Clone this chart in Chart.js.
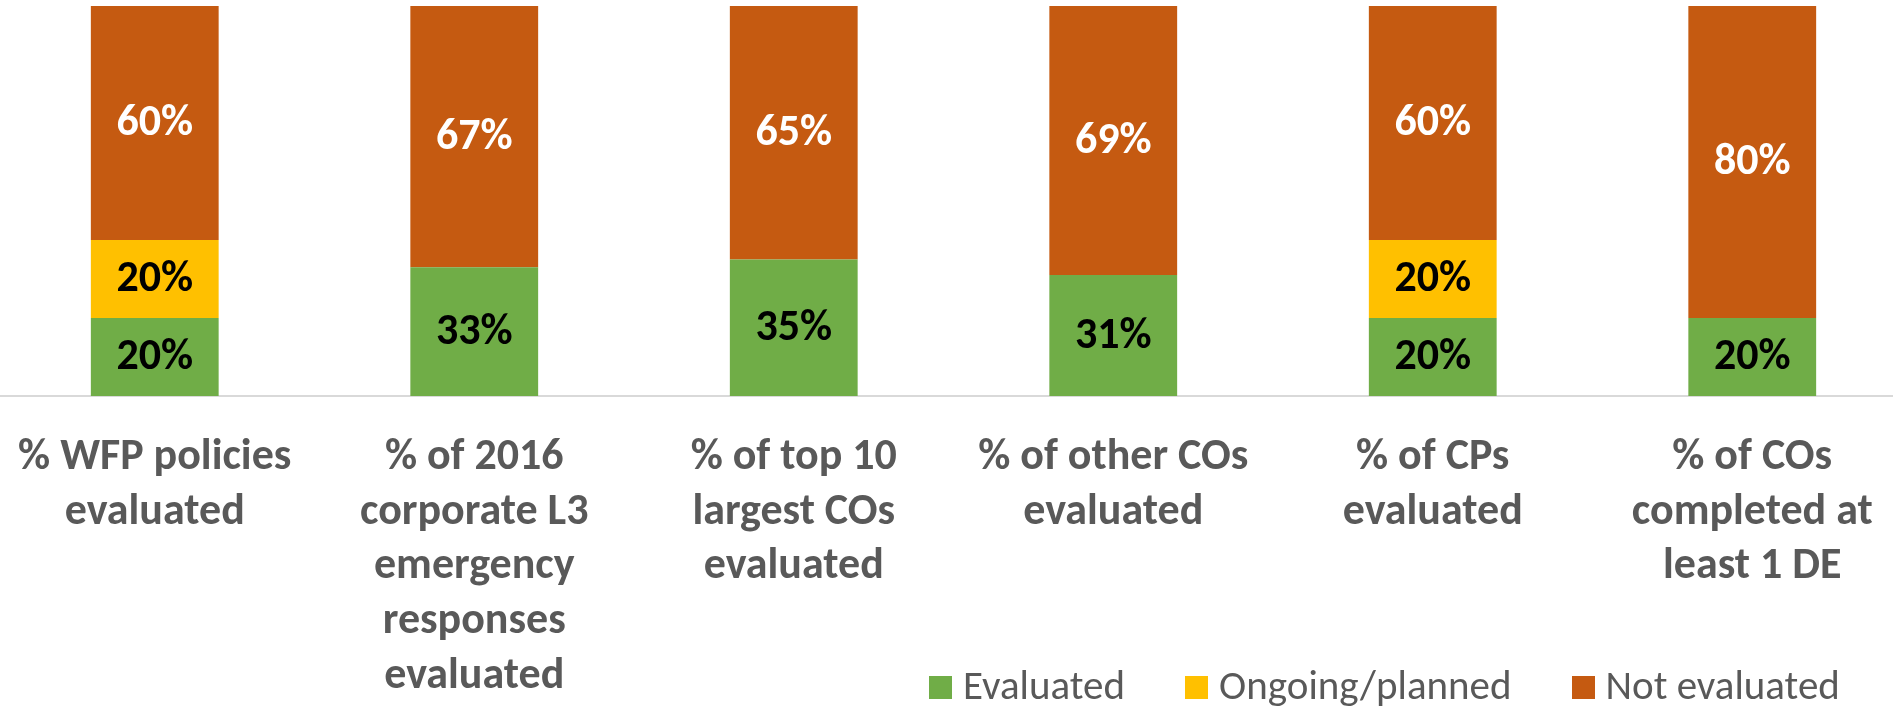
<!DOCTYPE html>
<html>
<head>
<meta charset="utf-8">
<script src="https://cdn.jsdelivr.net/npm/chart.js@4/dist/chart.umd.min.js"></script>
<style>
	html, body { margin: 0; padding: 0; background: #ffffff; overflow: hidden; }
	#chart-box { position: absolute; left: -5px; top: 0; width: 1917px; height: 706px; }
	#legend { position: absolute; left: 929px; top: 665px; display: flex; font: 41px Carlito, Lato, sans-serif; line-height: 41px; color: #595959; white-space: nowrap; }
	#legend .item { margin-right: 60px; }
	#legend .swatch { display: inline-block; width: 23px; height: 23px; margin-right: 11px; vertical-align: baseline; }
</style>
</head>
<body>
<div id="chart-box"><canvas id="coverage-chart-canvas"></canvas></div>
<div id="legend"></div>
<script>
// categories (multi-line labels as drawn under the bars)
var categoryLabels = [
	["% WFP policies", "evaluated"],
	["% of 2016", "corporate L3", "emergency", "responses", "evaluated"],
	["% of top 10", "largest COs", "evaluated"],
	["% of other COs", "evaluated"],
	["% of CPs", "evaluated"],
	["% of COs", "completed at", "least 1 DE"]
];

// series values, in percent
var evaluatedValues = [20, 33, 35, 31, 20, 20];
var ongoingValues = [20, 0, 0, 0, 20, 0];
var notEvaluatedValues = [60, 67, 65, 69, 60, 80];

var seriesNames = ["Evaluated", "Ongoing/planned", "Not evaluated"];
var seriesColors = ["#70AD47", "#FFC000", "#C55A11"];
var valueLabelColors = ["#000000", "#000000", "#ffffff"];

var fontStack = "Carlito, Lato, sans-serif";

// draws the percentage in the middle of every bar segment
var segmentValueLabels = {
	id: "segmentValueLabels",
	afterDatasetsDraw: function(chart) {
		var ctx = chart.ctx;
		ctx.save();
		ctx.font = "bold 44px " + fontStack;
		ctx.textAlign = "center";
		ctx.textBaseline = "middle";
		chart.data.datasets.forEach(function(dataset, i) {
			var meta = chart.getDatasetMeta(i);
			ctx.fillStyle = valueLabelColors[i];
			meta.data.forEach(function(bar, j) {
				var value = dataset.data[j];
				if(!value)
					return;
				var props = bar.getProps(["x", "y", "base"], true);
				ctx.fillText(value + "%", props.x, (props.y + props.base) / 2 + 1);
			});
		});
		ctx.restore();
	}
};

window.onload = function() {
	var seriesValues = [evaluatedValues, ongoingValues, notEvaluatedValues];
	var datasets = [];

	for(var i = 0; i < seriesNames.length; i++) {
		datasets.push({
			label: seriesNames[i],
			data: seriesValues[i],
			backgroundColor: seriesColors[i],
			borderWidth: 0,
			categoryPercentage: 1.0,
			barPercentage: 0.4
		});
	}

	window.coverageChart = new Chart(document.getElementById("coverage-chart-canvas"), {
		type: "bar",
		data: {
			labels: categoryLabels,
			datasets: datasets
		},
		options: {
			responsive: true,
			maintainAspectRatio: false,
			animation: false,
			layout: { padding: { top: 6, left: 0, right: 0, bottom: 0 } },
			plugins: {
				legend: { display: false },
				tooltip: { enabled: false }
			},
			scales: {
				x: {
					stacked: true,
					grid: { display: false, drawTicks: false },
					border: { display: true, color: "#D9D9D9", width: 2 },
					ticks: {
						color: "#595959",
						font: { family: fontStack, size: 44, weight: "bold", lineHeight: 1.24 },
						padding: 35,
						maxRotation: 0,
						autoSkip: false
					},
					afterFit: function(scale) {
						// keep the plot full width; edge labels may run past the border as in the original
						scale.height = 310;
						scale.paddingLeft = 0;
						scale.paddingRight = 0;
					}
				},
				y: {
					stacked: true,
					display: false,
					min: 0,
					max: 100
				}
			}
		},
		plugins: [segmentValueLabels]
	});

	// legend built from the same series names and colours
	var legendElement = document.getElementById("legend");
	for(var k = 0; k < seriesNames.length; k++) {
		var item = document.createElement("span");
		item.className = "item";
		var swatch = document.createElement("span");
		swatch.className = "swatch";
		swatch.style.background = seriesColors[k];
		item.appendChild(swatch);
		item.appendChild(document.createTextNode(seriesNames[k]));
		legendElement.appendChild(item);
	}
};
</script>
</body>
</html>
